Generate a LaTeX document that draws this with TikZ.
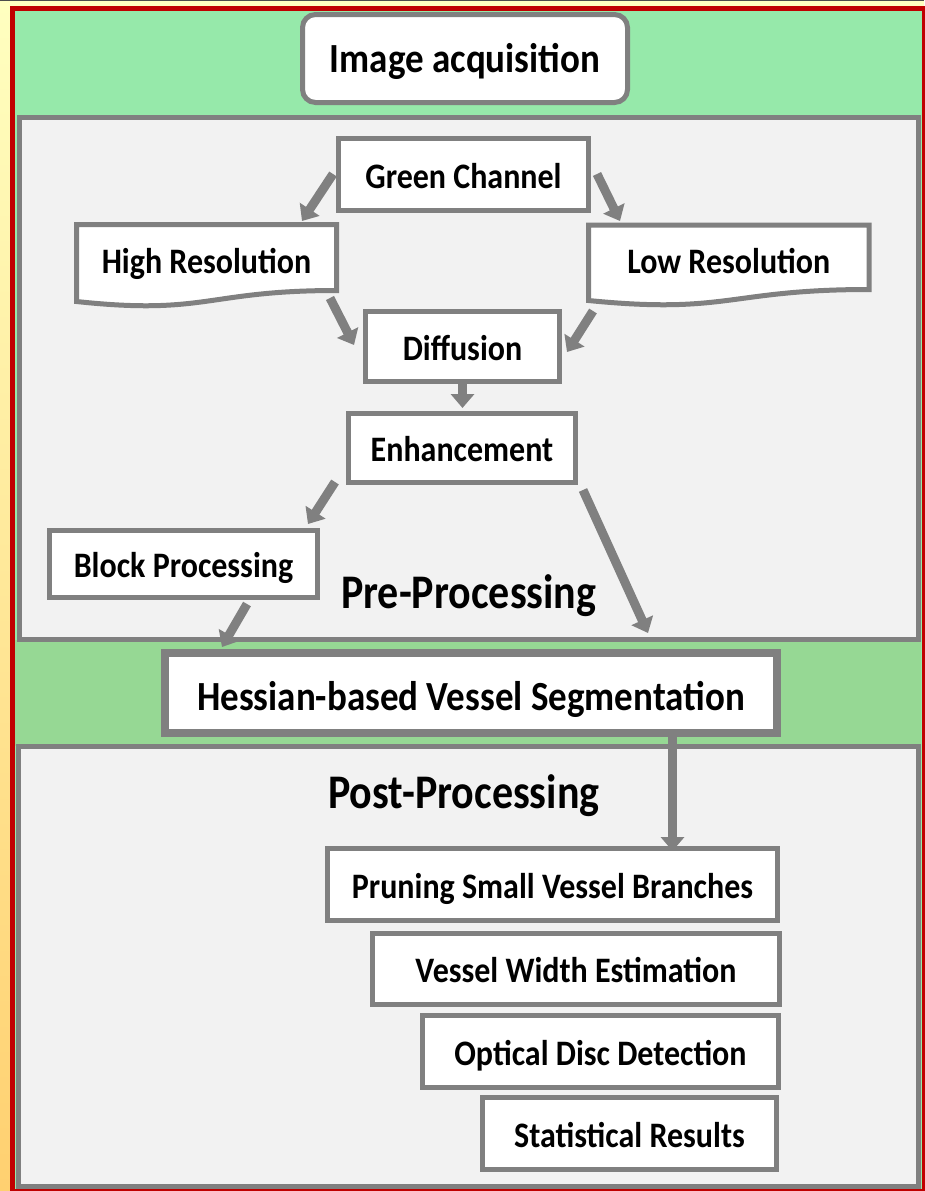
\documentclass[tikz,border=0pt]{standalone}
\usepackage{fontspec}
\setmainfont{Carlito}
\usepackage{graphicx}
\usetikzlibrary{arrows.meta,calc}
\definecolor{bordergray}{RGB}{128,128,128}
\definecolor{panelfill}{RGB}{242,242,242}
\definecolor{topgreen}{RGB}{150,233,170}
\definecolor{bandgreen}{RGB}{150,216,148}
\definecolor{framered}{RGB}{192,0,0}
\definecolor{paleyellow}{RGB}{255,255,192}
\definecolor{deepyellow}{RGB}{255,208,112}
\newcommand\vstretch[1]{\scalebox{1}[1.12]{#1}}
\pgfdeclarelayer{panels}
\pgfdeclarelayer{docs}
\pgfsetlayers{panels,docs,main}
\begin{document}
\begin{tikzpicture}[x=1pt,y=-1pt,
  box/.style={draw=bordergray,line width=5pt,fill=white,inner sep=0pt,
    font=\fontsize{32}{38}\selectfont\bfseries,text height=27.6pt,text depth=0pt},
  docbox/.style={inner sep=0pt,outer sep=0pt,
    font=\fontsize{32}{38}\selectfont\bfseries,text height=31.6pt,text depth=0pt},
  docline/.style={draw=bordergray,line width=5pt,fill=white,line join=miter},
  arr/.style={draw=bordergray,line width=9pt,-{Triangle[width=23pt,length=14pt]}},
  title/.style={inner sep=0pt,anchor=base west,font=\fontsize{42}{50}\selectfont\bfseries},
  panel/.style={draw=bordergray,fill=panelfill,line width=5pt}
]
\useasboundingbox (0,0) rectangle (924,1191);
\begin{pgfonlayer}{panels}
  \shade[top color=paleyellow,bottom color=deepyellow] (0,0) rectangle (924,1191);
  \fill[black!70] (0,0) rectangle (924,1.3);
  \fill[topgreen] (15,11) rectangle (924,1191);
  \fill[bandgreen] (15,640) rectangle (921,746);
  \draw[framered,line width=5.5pt] (12.5,8.5) rectangle (924.5,1191.5);
  \draw[panel] (19,117.5) rectangle (918,639);
  \draw[panel] (18,746.5) rectangle (918,1186.5);
\end{pgfonlayer}

% nodes
\node[box,rounded corners=13pt,minimum width=325pt,minimum height=88pt,
  font=\fontsize{37}{44}\selectfont\bfseries,text height=28.6pt] (ia) at (465,58.5) {\vstretch{Image acquisition}};
\node[box,minimum width=250pt,minimum height=72pt] (gc) at (463.5,174.5) {\vstretch{Green Channel}};
\node[docbox,minimum width=260pt,minimum height=66pt] (hr) at (206.5,257.5) {\vstretch{High Resolution}};
\node[docbox,minimum width=280.5pt,minimum height=64.5pt] (lr) at (728.75,257.25) {\vstretch{Low Resolution}};
\node[box,minimum width=194pt,minimum height=70pt] (df) at (462.5,346.5) {\vstretch{Diffusion}};
\node[box,minimum width=227pt,minimum height=69pt] (en) at (462,448) {\vstretch{Enhancement}};
\node[box,minimum width=268pt,minimum height=67pt] (bp) at (183.5,564) {\vstretch{Block Processing}};
\node[title] (pre) at (341,608) {\scalebox{1}[1.15]{Pre-Processing}};
\node[box,line width=8pt,minimum width=612pt,minimum height=80pt,
  font=\fontsize{37}{44}\selectfont\bfseries,text height=34.2pt] (hs) at (471,693) {\vstretch{Hessian-based Vessel Segmentation}};
\node[title] (post) at (328,808) {\scalebox{1}[1.15]{Post-Processing}};
\node[box,minimum width=450pt,minimum height=72pt] (pr) at (552.5,884.5) {\vstretch{Pruning Small Vessel Branches}};
\node[box,minimum width=407pt,minimum height=71pt] (vw) at (576,969) {\vstretch{Vessel Width Estimation}};
\node[box,minimum width=356pt,minimum height=72pt] (od) at (600.5,1051.5) {\vstretch{Optical Disc Detection}};
\node[box,minimum width=294pt,minimum height=72pt] (sr) at (629.5,1133.5) {\vstretch{Statistical Results}};

% document shapes
\begin{pgfonlayer}{docs}
  \draw[docline] (hr.north west) -- (hr.north east) -- (hr.south east)
    .. controls (hr.south) and ($(hr.south)+(0,25)$) .. ($(hr.south west)+(0,11)$) -- cycle;
  \draw[docline] (lr.north west) -- (lr.north east) -- (lr.south east)
    .. controls (lr.south) and ($(lr.south)+(0,25)$) .. ($(lr.south west)+(0,11)$) -- cycle;
\end{pgfonlayer}

% connectors
\draw[arr] ($(gc.west)+(-3,-0.5)$) -- ($(hr.north)+(95.5,-3.5)$);
\draw[arr] ($(gc.east)+(6,-0.5)$) -- ($(lr.north)+(-108.75,-4)$);
\draw[arr] ($(hr.south)+(123.5,7.5)$) -- ($(df.west)+(-9,-1.5)$);
\draw[arr] ($(lr.south)+(-135.75,21.5)$) -- ($(df.east)+(5,5.5)$);
\draw[arr] (df.south) -- ($(df.south|-en.north)+(0,-3)$);
\draw[arr] ($(en.south west)+(-11,-3)$) -- ($(bp.north east)+(-12,-4)$);
\draw[arr] ($(en.south east)+(5,5)$) -- ($(hs.north)+(177,-16)$);
\draw[arr] ($(bp.south)+(63.5,4)$) -- ($(hs.north west)+(61,-2)$);
\draw[arr] ($(hs.south)+(201.5,-4)$) -- ($(pr.north)+(120,5)$);
\end{tikzpicture}
\end{document}
